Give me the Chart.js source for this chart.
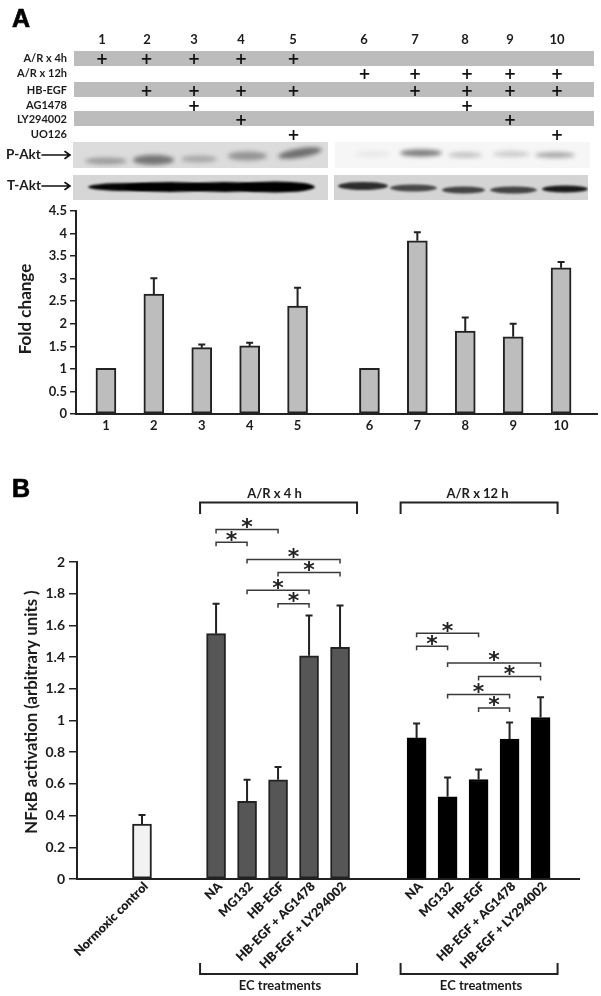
<!DOCTYPE html>
<html>
<head>
<meta charset="utf-8">
<script src="https://cdn.jsdelivr.net/npm/chart.js@4"></script>
<style>
html,body{margin:0;padding:0;background:#fff;}
body{width:601px;height:996px;position:relative;overflow:hidden;font-family:Lato,sans-serif;color:#1c1c1c;}
canvas{position:absolute;display:block;}
.t{position:absolute;white-space:nowrap;font-weight:700;line-height:1;}
.band{position:absolute;background:#bcbcbc;left:74px;width:520px;height:15px;}
</style>
</head>
<body>
<canvas id="blots" width="601" height="210" style="left:0;top:0"></canvas>
<canvas id="chartA" width="601" height="240" style="left:0;top:200px;width:601px;height:240px"></canvas>
<canvas id="chartB" width="601" height="516" style="left:0;top:480px;width:601px;height:516px"></canvas>
<script>
/* ---------- Panel A data ---------- */
const laneLabels = ['1','2','3','4','5','6','7','8','9','10'];
const foldChange = [1.01,2.66,1.47,1.51,2.39,1.01,3.84,1.84,1.71,3.24];
const foldErrTop = [null,3.01,1.54,1.58,2.80,null,4.03,2.14,2.00,3.37];
const rowLabels  = ['A/R x 4h','A/R x 12h','HB-EGF','AG1478','LY294002','UO126'];
const rowMarks   = [[1,2,3,4,5],[6,7,8,9,10],[2,3,4,5,7,8,9,10],[3,8],[4,9],[5,10]];
const foldTicks  = [0,0.5,1,1.5,2,2.5,3,3.5,4,4.5];

/* ---------- Panel B data ---------- */
const controlLabels = ['Normoxic control'];
const treatmentLabels = ['NA','MG132','HB-EGF','HB-EGF + AG1478','HB-EGF + LY294002'];
const controlValue = [0.347];
const controlErrTop = [0.403];
const ar4Values = [1.548,0.49,0.626,1.408,1.462];
const ar4ErrTop = [1.737,0.626,0.706,1.662,1.725];
const ar12Values = [0.89,0.519,0.628,0.882,1.019];
const ar12ErrTop = [0.981,0.641,0.691,0.987,1.147];
const nfkbTicks = [0,0.2,0.4,0.6,0.8,1,1.2,1.4,1.6,1.8,2];
/* significance brackets: from bar, to bar, level on the value axis */
const sig4h  = [[0,2,2.205],[0,1,2.124],[1,4,2.016],[2,4,1.934],[1,3,1.821],[2,3,1.737]];
const sig12h = [[0,2,1.55],[0,1,1.468],[1,4,1.363],[2,4,1.277],[1,3,1.164],[2,3,1.079]];

/* ---------- Panel A header table ---------- */
const INK = '#1c1c1c';
const laneX = [102,147,194,241,293,364,415,465,510,557];
const markX = [102,146.5,194,241,293.5,364.5,415,467,510,557];
const rowY  = [58,73,89.5,104.5,118.5,134];
function addText(txt,css){const d=document.createElement('div');d.className='t';d.textContent=txt;d.style.cssText=css;document.body.appendChild(d);return d;}
[51,82,111].forEach(y=>{const b=document.createElement('div');b.className='band';b.style.top=y+'px';document.body.insertBefore(b,document.getElementById('blots'));});
addText('A','left:12px;top:4px;font:700 25px "Liberation Sans",Arial,sans-serif;color:#000;-webkit-text-stroke:0.7px #000');
addText('B','left:12px;top:474px;font:700 25px "Liberation Sans",Arial,sans-serif;color:#000;-webkit-text-stroke:0.7px #000');
laneLabels.forEach((l,i)=>addText(l,`left:${laneX[i]-15}px;width:30px;text-align:center;top:33px;font-size:13px`));
rowLabels.forEach((l,i)=>{
  addText(l,`right:${601-67}px;top:${rowY[i]-6}px;font-size:11px`);
  rowMarks[i].forEach(m=>addText('+',`left:${markX[m-1]-10}px;width:20px;text-align:center;top:${rowY[i]-8}px;font:700 15px "DejaVu Sans",sans-serif;color:#111`));
});
addText('P-Akt','left:6px;top:148px;font-size:13.5px');
addText('T-Akt','left:7px;top:179px;font-size:13.5px');

/* ---------- blots (picture, not data) ---------- */
(function(){
  const c=document.getElementById('blots').getContext('2d');
  function panel(x,y,w,h,col,bands,blur){
    c.save();c.beginPath();c.rect(x,y,w,h);c.clip();
    c.fillStyle=col;c.fillRect(x,y,w,h);
    c.filter=`blur(${blur}px)`;
    bands.forEach(b=>{
      c.fillStyle=b[5];c.beginPath();
      c.ellipse(b[0]+b[2]/2,b[1],b[2]/2,b[3]/2,b[4]||0,0,Math.PI*2);c.fill();
    });
    c.restore();
  }
  panel(73,142,255,26,'#dcdcdc',[
    [85,161,42,7,0,'#9c9c9c'],[133,160,41,10,0,'#747474'],[181,159,36,7,0,'#a8a8a8'],
    [228,156,39,9,0,'#949494'],[278,153,44,9,-0.16,'#6e6e6e']],2);
  panel(335,142,255,26,'#f6f6f6',[
    [355,154,35,5,0,'#e6e6e6'],[400,153,42,7,0,'#7c7c7c'],[448,155,34,6,0,'#c4c4c4'],
    [493,154,37,6,0,'#cccccc'],[535,155,40,6,0,'#a8a8a8']],2);
  panel(73,175,255,25,'#d6d6d6',[
    [88,187,80,8,0,'#050505'],[125,187,90,10,0,'#000'],[180,187,90,10,0,'#000'],
    [235,187,80,11,0,'#000']],1);
  panel(334,175,254,25,'#d4d4d4',[
    [338,186,50,8,0,'#2c2c2c'],[390,188,47,7,0,'#484848'],[442,190,43,7,0,'#444'],
    [490,190,47,7,0,'#444'],[542,189,46,7,0,'#1a1a1a']],1.2);
  /* arrows */
  c.strokeStyle='#111';c.lineWidth=1.6;c.lineCap='round';
  [155,186].forEach(y=>{
    c.beginPath();c.moveTo(42,y);c.lineTo(70,y);c.moveTo(65,y-3.5);c.lineTo(70,y);c.lineTo(65,y+3.5);c.stroke();
  });
})();

/* ---------- plugins ---------- */
const errorBars = {
  id:'errorBars',
  afterDatasetsDraw(chart){
    const {ctx,scales:{x,y}} = chart;
    ctx.save();ctx.strokeStyle='#222';ctx.lineWidth=2;
    chart.data.datasets.forEach(ds=>ds.data.forEach(d=>{
      if(d.top==null) return;
      const px=x.getPixelForValue(d.x),t=y.getPixelForValue(d.top),b=y.getPixelForValue(d.y);
      ctx.beginPath();ctx.moveTo(px,b);ctx.lineTo(px,t);ctx.moveTo(px-3.5,t);ctx.lineTo(px+3.5,t);ctx.stroke();
    }));
    ctx.restore();
  }
};
const yCaption = {
  id:'yCaption',
  afterDraw(chart,args,o){
    const c=chart.ctx;c.save();c.translate(o.x,o.y);c.rotate(-Math.PI/2);
    c.font=o.font;c.fillStyle=INK;c.textAlign='center';c.textBaseline='middle';c.fillText(o.text,0,0);c.restore();
  }
};
function star(c,x,y){
  c.font='700 22px "DejaVu Sans",sans-serif';
  c.textAlign='center';c.textBaseline='alphabetic';
  const m=c.measureText('*');
  c.fillText('*',x,y+(m.actualBoundingBoxAscent-m.actualBoundingBoxDescent)/2);
}
const annotations = {
  id:'annotations',
  afterDraw(chart,args,o){
    const c=chart.ctx,{x,y}=chart.scales;
    c.save();c.lineCap='butt';
    const groups=[[ar4Pos,sig4h,'A/R x 4 h',-4,1.5],[ar12Pos,sig12h,'A/R x 12 h',-1.5,2]];
    groups.forEach(([pos,sig,name,dxTop,dxBottom])=>{
      c.strokeStyle='#3a3a3a';c.fillStyle='#222';c.lineWidth=1.5;
      sig.forEach(([a,b,lev])=>{
        const xa=x.getPixelForValue(pos[a]),xb=x.getPixelForValue(pos[b]),py=y.getPixelForValue(lev);
        c.beginPath();c.moveTo(xa,py+4);c.lineTo(xa,py);c.lineTo(xb,py);c.lineTo(xb,py+4);c.stroke();
        star(c,(xa+xb)/2,py-6.5);
      });
      const l=x.getPixelForValue(pos[0])-16,r=x.getPixelForValue(pos[4])+17;
      c.strokeStyle='#222';c.lineWidth=2;
      c.beginPath();c.moveTo(l,34);c.lineTo(l,22.5);c.lineTo(r,22.5);c.lineTo(r,34);c.stroke();
      c.beginPath();c.moveTo(l,483);c.lineTo(l,494);c.lineTo(r,494);c.lineTo(r,483);c.stroke();
      c.fillStyle=INK;c.font='700 13px Lato,sans-serif';c.textAlign='center';c.textBaseline='middle';
      c.fillText(name,(l+r)/2+dxTop,14);
      c.fillText('EC treatments',(l+r)/2+dxBottom,506);
    });
    c.restore();
  }
};

Chart.defaults.font.family='Lato, sans-serif';
Chart.defaults.color=INK;
Chart.defaults.animation=false;

/* ---------- Chart A ---------- */
const gapA = 0.5;
const laneSlots = laneLabels.map((_,i)=>i+(i>=5?gapA:0));
new Chart(document.getElementById('chartA'),{
  type:'bar',
  data:{datasets:[{
    data:foldChange.map((v,i)=>({x:laneSlots[i],y:v,top:foldErrTop[i]})),
    backgroundColor:'#bdbdbd',borderColor:'#222',borderWidth:2,borderSkipped:false,barThickness:20
  }]},
  plugins:[errorBars,yCaption],
  options:{
    responsive:false,maintainAspectRatio:false,devicePixelRatio:1,
    layout:{padding:{top:11,right:4,left:0,bottom:0}},
    plugins:{legend:{display:false},tooltip:{enabled:false},
      yCaption:{text:'Fold change',x:26,y:109,font:'700 17px Lato,sans-serif'}},
    scales:{
      x:{type:'linear',offset:false,min:-0.625,max:10.25,
        afterBuildTicks(s){s.ticks=laneSlots.map(v=>({value:v}));},
        afterFit(s){s.height=26;},
        grid:{display:false,offset:false},border:{display:true,color:'#222',width:2},
        ticks:{autoSkip:false,maxRotation:0,minRotation:0,padding:-4,font:{size:13,weight:'700'},
          callback:(v,i)=>laneLabels[i]}},
      y:{min:0,max:4.5,
        afterBuildTicks(s){s.ticks=foldTicks.map(v=>({value:v}));},
        afterFit(s){s.width=76;},
        grid:{drawOnChartArea:false,drawTicks:true,tickLength:6,color:'#222',lineWidth:1.5},
        border:{display:true,color:'#222',width:2},
        ticks:{padding:3,font:{size:13,weight:'700'},callback:v=>String(v)}}
    }
  }
});

/* ---------- Chart B ---------- */
const ar4Start=2.39, ar12Start=8.86;
const ar4Pos=treatmentLabels.map((_,i)=>ar4Start+i);
const ar12Pos=treatmentLabels.map((_,i)=>ar12Start+i);
const bPos=[0,...ar4Pos,...ar12Pos];
const bLabels=[...controlLabels,...treatmentLabels,...treatmentLabels];
const toPts=(pos,vals,tops)=>vals.map((v,i)=>({x:pos[i],y:v,top:tops[i]}));
new Chart(document.getElementById('chartB'),{
  type:'bar',
  data:{datasets:[
    {label:'Normoxic control',data:toPts([0],controlValue,controlErrTop),backgroundColor:'#f2f2f2',borderColor:'#222',borderWidth:2,borderSkipped:false,barThickness:19,grouped:false},
    {label:'A/R x 4 h',data:toPts(ar4Pos,ar4Values,ar4ErrTop),backgroundColor:'#565656',borderColor:'#222',borderWidth:2,borderSkipped:false,barThickness:19,grouped:false},
    {label:'A/R x 12 h',data:toPts(ar12Pos,ar12Values,ar12ErrTop),backgroundColor:'#000',borderColor:'#000',borderWidth:2,borderSkipped:false,barThickness:19,grouped:false}
  ]},
  plugins:[errorBars,yCaption,annotations],
  options:{
    responsive:false,maintainAspectRatio:false,devicePixelRatio:1,
    layout:{padding:{top:82,right:22,left:0,bottom:0}},
    plugins:{legend:{display:false},tooltip:{enabled:false},
      yCaption:{text:'NFκB activation (arbitrary units )',x:32,y:232,font:'700 16.8px Lato,sans-serif'}},
    scales:{
      x:{type:'linear',offset:false,min:-2.097,max:14.1,
        afterBuildTicks(s){s.ticks=bPos.map(v=>({value:v}));},
        afterFit(s){s.height=117;},
        grid:{display:false,offset:false},border:{display:true,color:'#222',width:2},
        ticks:{autoSkip:false,maxRotation:45,minRotation:45,padding:-8,labelOffset:4,font:{size:12.5,weight:'800'},
          callback:(v,i)=>bLabels[i]}},
      y:{min:0,max:2,
        afterBuildTicks(s){s.ticks=nfkbTicks.map(v=>({value:v}));},
        afterFit(s){s.width=77;},
        grid:{drawOnChartArea:false,drawTicks:true,tickLength:8,color:'#222',lineWidth:1.5},
        border:{display:true,color:'#222',width:2},
        ticks:{padding:4,font:{size:14,weight:'700'},callback:v=>String(v)}}
    }
  }
});
</script>
</body>
</html>
